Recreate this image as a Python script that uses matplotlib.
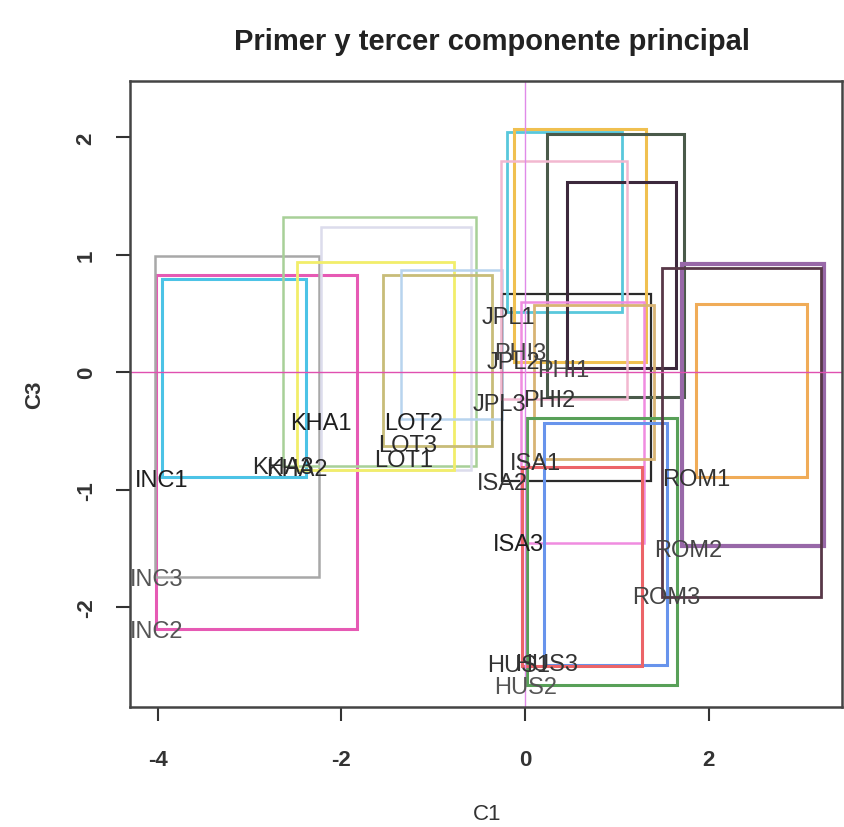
import matplotlib
matplotlib.use("Agg")
import matplotlib.pyplot as plt
from matplotlib.patches import Rectangle

plt.rcParams['font.family'] = ['Liberation Sans', 'DejaVu Sans']
plt.rcParams['axes.unicode_minus'] = False

# Datos ##################################################################
# etiquetas de las observaciones (C1, C3)
etiquetas = ['INC1', 'INC2', 'INC3', 'KHA1', 'KHA3', 'KHA2', 'LOT2', 'LOT3', 'LOT1',
             'JPL1', 'JPL2', 'JPL3', 'PHI3', 'PHI1', 'PHI2', 'ISA1', 'ISA2', 'ISA3',
             'HUS1', 'HUS3', 'HUS2', 'ROM1', 'ROM2', 'ROM3']
c1 = [-3.96, -4.01, -4.01, -2.22, -2.64, -2.48, -1.21, -1.28, -1.32,
      -0.18, -0.13, -0.28, -0.05, 0.42, 0.26, 0.11, -0.25, -0.07,
      -0.07, 0.24, 0.01, 1.86, 1.78, 1.54]
c3 = [-0.92, -2.20, -1.76, -0.43, -0.81, -0.82, -0.43, -0.62, -0.75,
      0.47, 0.09, -0.27, 0.16, 0.02, -0.24, -0.77, -0.94, -1.46,
      -2.49, -2.48, -2.68, -0.91, -1.51, -1.91]
col_etiq = ['#1e1e1e', '#555555', '#555555', '#1e1e1e', '#2a2a2a', '#2a2a2a', '#1e1e1e', '#2a2a2a', '#2a2a2a',
            '#333333', '#333333', '#333333', '#444444', '#444444', '#333333', '#333333', '#333333', '#1e1e1e',
            '#333333', '#333333', '#555555', '#333333', '#444444', '#444444']

# rectangulos: x izquierda, x derecha, y abajo, y arriba
rect_x0 = [-3.95, -4.02, -4.03, -2.64, -2.22, -2.48, -1.55, -1.35, -0.25, -0.20, -0.12,
           0.24, 0.46, -0.26, -0.04, 0.10, 0.02, 0.21, -0.03, 1.71, 1.49, 1.86]
rect_x1 = [-2.38, -1.83, -2.24, -0.53, -0.59, -0.77, -0.36, -0.25, 1.37, 1.05, 1.32,
           1.73, 1.64, 1.11, 1.29, 1.40, 1.65, 1.54, 1.27, 3.25, 3.22, 3.07]
rect_y0 = [-0.89, -2.19, -1.74, -0.80, -0.83, -0.83, -0.63, -0.40, -0.93, 0.51, 0.09,
           -0.21, 0.04, -0.23, -1.45, -0.74, -2.66, -2.49, -2.50, -1.48, -1.91, -0.89]
rect_y1 = [0.79, 0.83, 0.99, 1.32, 1.24, 0.94, 0.83, 0.87, 0.67, 2.05, 2.07,
           2.03, 1.62, 1.80, 0.60, 0.57, -0.39, -0.43, -0.81, 0.92, 0.89, 0.58]
rect_col = ['#4cc3e6', '#e65ab4', '#a8a8a8', '#a8d098', '#dcdcec', '#f2ee6a', '#c8bc78', '#b8d4ee',
            '#2a2a2a', '#58c8dc', '#f0c050', '#4a5a4a', '#3c283c', '#f2b8d0', '#f08ce0', '#d8b474',
            '#58a058', '#6894ec', '#ec6468', '#9868a8', '#583848', '#f0ac58']
rect_lw = [2.2, 2.2, 1.8, 1.8, 1.8, 2.0, 2.0, 1.8, 1.6, 2.0, 2.2,
           2.2, 2.2, 1.8, 1.8, 2.0, 2.2, 2.2, 2.2, 3.0, 2.0, 2.2]

# Grafico ################################################################
fig = plt.figure(figsize=(8.44, 8.28), dpi=100)
ax = fig.add_axes([130 / 844, 120 / 828, 712 / 844, 626 / 828])

for i in range(len(rect_x0)):
    r = Rectangle((rect_x0[i], rect_y0[i]), rect_x1[i] - rect_x0[i], rect_y1[i] - rect_y0[i],
                  fill=False, edgecolor=rect_col[i], linewidth=rect_lw[i])
    ax.add_patch(r)

ax.axhline(0, color='#e050b0', linewidth=1.0)
ax.axvline(0, color='#e08ae8', linewidth=1.0)

for i in range(len(etiquetas)):
    ax.text(c1[i], c3[i], etiquetas[i], ha='center', va='center',
            fontsize=17, color=col_etiq[i])

ax.set_xlim(-4.30, 3.45)
ax.set_ylim(-2.85, 2.48)
ax.set_xticks([-4, -2, 0, 2])
ax.set_yticks([-2, -1, 0, 1, 2])
ax.tick_params(axis='x', length=10, width=1.5, pad=20, labelsize=16, colors='#333333')
ax.tick_params(axis='y', length=10, width=1.5, pad=14, labelsize=16, colors='#333333',
               labelrotation=90)
for lab in ax.get_yticklabels():
    lab.set_va('center')
for lab in ax.get_xticklabels() + ax.get_yticklabels():
    lab.set_fontweight('bold')
for s in ax.spines.values():
    s.set_linewidth(1.8)
    s.set_color('#444444')

fig.text(492 / 844, 1 - 42 / 828, 'Primer y tercer componente principal',
         ha='center', va='center', fontsize=21, fontweight='bold', color='#222222')
fig.text(487 / 844, 1 - 815 / 828, 'C1', ha='center', va='center', fontsize=16, color='#333333')
fig.text(35 / 844, 1 - 395 / 828, 'C3', ha='center', va='center', fontsize=16,
         rotation=90, color='#333333', fontweight='bold')

fig.savefig('out.png', dpi=100)
